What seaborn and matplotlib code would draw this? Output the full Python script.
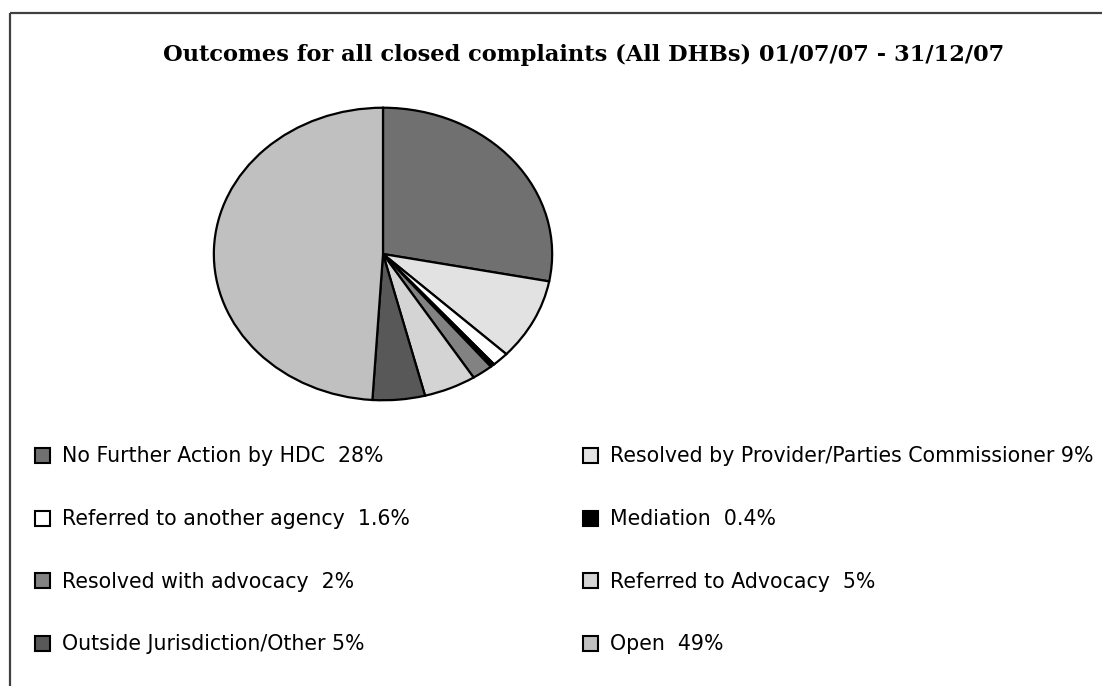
import matplotlib
matplotlib.use("Agg")
import matplotlib.pyplot as plt
from matplotlib.patches import Rectangle
import seaborn as sns

# Outcome categories, their shares (%) and fill shades
categories = [
    "No Further Action by HDC",
    "Resolved by Provider/Parties Commissioner",
    "Referred to another agency",
    "Mediation",
    "Resolved with advocacy",
    "Referred to Advocacy",
    "Outside Jurisdiction/Other",
    "Open",
]
shares = [28, 9, 1.6, 0.4, 2, 5, 5, 49]
share_labels = ["28%", "9%", "1.6%", "0.4%", "2%", "5%", "5%", "49%"]
label_gaps = ["  ", " ", "  ", "  ", "  ", "  ", " ", "  "]
shades = ["#707070", "#e2e2e2", "#ffffff", "#000000",
          "#828282", "#d4d4d4", "#585858", "#c0c0c0"]
title = "Outcomes for all closed complaints (All DHBs) 01/07/07 - 31/12/07"

sns.set_theme(style="white")
plt.rcParams["font.family"] = ["DejaVu Sans"]
plt.rcParams["text.color"] = "black"

W, H = 1102, 686
fig = plt.figure(figsize=(W / 100, H / 100), dpi=100)
fig.patch.set_facecolor("white")


def px(x, y):
    """Pixel position (from top-left) to figure fraction."""
    return x / W, 1 - y / H


# Outer frame (only left and top edges fall inside the canvas)
fig.add_artist(Rectangle(px(9.5, 12.5), 1200 / W, -800 / H,
                         transform=fig.transFigure, fill=False,
                         edgecolor="#404040", linewidth=1.6))

fig.text(*px(584, 55), title, ha="center", va="center",
         fontsize=16.2, fontweight="bold", color="black",
         family=["DejaVu Serif"])

# Elliptical pie: axes box spans the pie's bounding box
cx, cy, rx, ry = 383, 254, 170, 147
l, b = px(cx - rx, cy + ry)
ax = fig.add_axes([l, b, 2 * rx / W, 2 * ry / H])
ax.pie(shares, colors=shades, startangle=90, counterclock=False,
       wedgeprops=dict(edgecolor="black", linewidth=1.6))
ax.set_aspect("auto")
ax.set_xlim(-1.005, 1.005)
ax.set_ylim(-1.005, 1.005)
ax.axis("off")

# Two-column legend, filled row by row
col_x = [35, 583]
row_y = [455.5, 518, 580.5, 643]
sq = 15
for i, (name, gap, lab, c) in enumerate(zip(categories, label_gaps,
                                             share_labels, shades)):
    x0 = col_x[i % 2]
    y0 = row_y[i // 2]
    fig.add_artist(Rectangle(px(x0, y0 + sq / 2), sq / W, sq / H,
                             transform=fig.transFigure, facecolor=c,
                             edgecolor="black", linewidth=1.5))
    fig.text(*px(x0 + 27, y0 + 1), f"{name}{gap}{lab}", ha="left",
             va="center", fontsize=14.8, color="black")

fig.savefig("out.png", dpi=100, facecolor="white")
